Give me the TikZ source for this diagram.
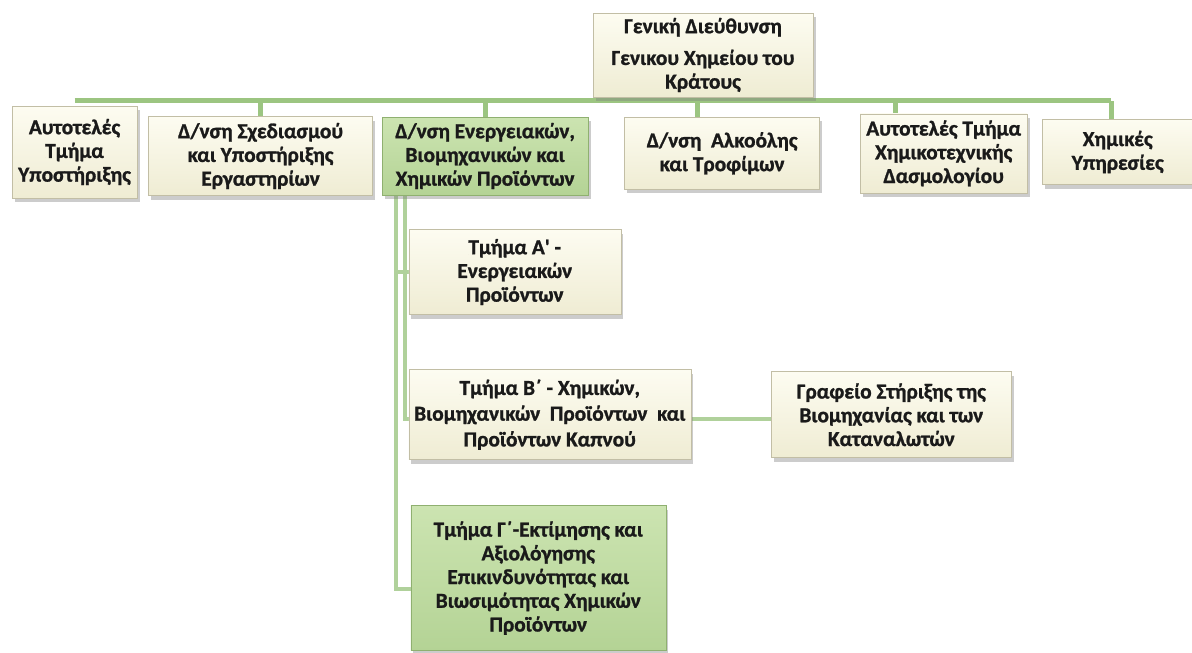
\documentclass[tikz,border=0pt]{standalone}
\usepackage{fontspec}
\setmainfont{Carlito}[BoldFont={Carlito Bold}, BoldFeatures={FakeBold=1.2}]
\usetikzlibrary{positioning, shadows, backgrounds, calc}
\definecolor{creamtop}{HTML}{FDFCF1}
\definecolor{creambot}{HTML}{EFECD3}
\definecolor{boxedge}{HTML}{C2BEA5}
\definecolor{greentop}{HTML}{CCE4B1}
\definecolor{greenbot}{HTML}{B4D395}
\definecolor{greenedge}{HTML}{8FB070}
\definecolor{busgreen}{HTML}{9CC581}
\definecolor{subgreen}{HTML}{B0D19B}
\definecolor{textgray}{HTML}{1A1A1A}

\begin{document}
\begin{tikzpicture}[
    node distance=8pt,
    box/.style={rectangle, draw=boxedge, top color=creamtop, bottom color=creambot,
                drop shadow={shadow xshift=2pt, shadow yshift=-3pt, opacity=0.4},
                align=center, inner sep=1.5pt, text=textgray,
                font=\fontsize{16}{17.8}\selectfont\bfseries},
    greenbox/.style={box, draw=greenedge, top color=greentop, bottom color=greenbot},
    link/.style={line width=3.75pt, draw=busgreen},
    sublink/.style={line width=3pt, draw=subgreen}
]
\useasboundingbox (0,0) rectangle (894pt,-489.75pt);

% head office
\node[box, minimum width=165pt, minimum height=63pt] (gd) at (527.25pt,-41.25pt)
    {Γενική Διεύθυνση\\[6pt] Γενικου Χημείου του\\ Κράτους};
\coordinate (bus) at ([yshift=-2.5pt]gd.south);

% first level
\node[box, minimum width=93.75pt, minimum height=69pt] (supp) at (55.9pt,-114pt)
    {Αυτοτελές\\ Τμήμα\\ Υποστήριξης};
\node[box, minimum width=168pt, minimum height=59.25pt, right=8.25pt of supp, yshift=-3pt] (plan)
    {Δ/νση Σχεδιασμού\\ και Υποστήριξης\\ Εργαστηρίων};
\node[greenbox, minimum width=154.5pt, minimum height=58.5pt, right=6.75pt of plan] (energy)
    {Δ/νση Ενεργειακών,\\ Βιομηχανικών και\\ Χημικών Προϊόντων};
\node[box, minimum width=146.25pt, minimum height=54pt, right=27pt of energy, yshift=2pt] (alco)
    {Δ/νση~ Αλκοόλης\\ και Τροφίμων};
\node[box, minimum width=125.25pt, minimum height=59.25pt, right=30pt of alco] (tariff)
    {Αυτοτελές Τμήμα\\ Χημικοτεχνικής\\ Δασμολογίου};
\node[box, minimum width=112.5pt, minimum height=48.75pt, right=11.25pt of tariff, yshift=1pt] (chem)
    {Χημικές\\ Υπηρεσίες};

% sections of the energy directorate
\node[box, minimum width=159pt, minimum height=63.75pt, anchor=north west] (secA)
    at ([shift={(20pt,-25.5pt)}]energy.south west)
    {Τμήμα Α\textquotesingle{} -\\ Ενεργειακών\\ Προϊόντων};
\node[box, minimum width=211.5pt, minimum height=67.5pt, below=41pt of secA.south west, anchor=north west] (secB)
    {Τμήμα Β΄ - Χημικών,\\[1.5pt] Βιομηχανικών~ Προϊόντων~ και\\[1.5pt] Προϊόντων Καπνού};
\node[greenbox, minimum width=191.25pt, minimum height=108.75pt, below=34pt of secB.south west, anchor=north west, xshift=1.5pt] (secC)
    {Τμήμα Γ΄-Εκτίμησης και\\ Αξιολόγησης\\ Επικινδυνότητας και\\ Βιωσιμότητας Χημικών\\ Προϊόντων};
\node[box, minimum width=180pt, minimum height=64.5pt, right=60pt of secB] (office)
    {Γραφείο Στήριξης της\\ Βιομηχανίας και των\\ Καταναλωτών};

\begin{scope}[on background layer]
\draw[link] (supp.north |- bus) -- ([xshift=-5pt]chem.north |- bus);
\draw[link] ([xshift=-4.5pt]gd.south) -- ([xshift=-4.5pt]gd.south |- alco.north);
\draw[link] (plan.north) -- (plan.north |- bus);
\draw[link] (energy.north) -- (energy.north |- bus);
\draw[link] ([xshift=-36pt]tariff.north) -- ([xshift=-36pt]tariff.north |- bus);
\draw[link] ([xshift=-5pt]chem.north) -- ([xshift=-5pt]chem.north |- bus);
\draw[sublink] ([xshift=10.5pt]energy.south west) |- ([yshift=-8pt]secC.west);
\draw[sublink] ([xshift=17pt]energy.south west) |- ([yshift=-3pt]secB.west);
\draw[sublink] ([xshift=10.5pt]energy.south west) |- (secA.west);
\draw[sublink] ([yshift=-3pt]secB.east) -- ([yshift=-3pt]secB.east -| office.west);
\end{scope}
\end{tikzpicture}
\end{document}
